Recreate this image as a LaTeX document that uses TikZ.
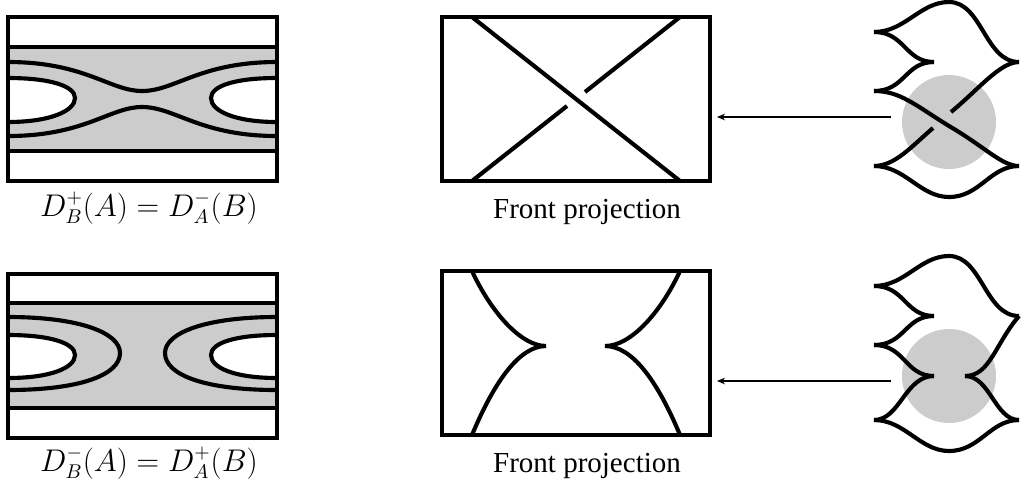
\documentclass[tikz,border=0pt]{standalone}
\usepackage{fontspec}
\setmainfont{Liberation Serif}
\usepackage{amsmath}
\usetikzlibrary{arrows.meta}
\definecolor{greyfill}{gray}{0.8}
\tikzset{
  framebox/.style={draw=black,line width=3.5pt},
  strand/.style={draw=black,line width=3.1pt},
  lens/.style={fill=white,draw=black,line width=3.1pt},
  disc/.style={fill=greyfill,draw=none},
  projarrow/.style={draw=black,line width=1pt,-{Stealth[length=6pt,width=5pt]}},
  caption/.style={inner sep=0pt,scale=1.36,font=\fontsize{16}{18}\selectfont},
}
\newcommand{\frontknot}{%
  \draw[strand] (874,32) .. controls (905,32) and (920,2) .. (949,2)
     .. controls (982,2) and (985,62) .. (1019,62);
  \draw[strand] (874,32) .. controls (905,32) and (905,62) .. (934,62);
  \draw[strand] (874,91) .. controls (905,91) and (905,62) .. (934,62);
  \draw[strand] (874,166) .. controls (905,166) and (920,197) .. (949,197)
     .. controls (980,197) and (990,166) .. (1019,166);
}
\begin{document}
\begin{tikzpicture}[x=0.75pt,y=-0.75pt]
\useasboundingbox (0,0) rectangle (1021,487);
% top left
\fill[greyfill] (8,47) rectangle (277,151);
\path[lens] (8,78) .. controls (50,78) and (75,86) .. (75,98) .. controls (75,111) and (50,122) .. (8,122);
\path[lens] (277,78) .. controls (235,78) and (211,86) .. (211,98) .. controls (211,111) and (235,122) .. (277,122);
\draw[strand] (8,62) .. controls (85,62) and (110,91) .. (142,91) .. controls (175,91) and (200,62) .. (277,62);
\draw[strand] (8,136) .. controls (85,136) and (110,107) .. (142,107) .. controls (175,107) and (200,136) .. (277,136);
\draw[framebox] (8,47) -- (277,47) (8,151) -- (277,151);
\draw[framebox] (8,17) rectangle (277,181);
\node[caption] (capA) at (149,208) {$D_B^+(A)=D_A^-(B)$};
% bottom left
\fill[greyfill] (8,303) rectangle (277,408);
\path[lens] (8,335) .. controls (50,335) and (75,343) .. (75,355) .. controls (75,368) and (50,378) .. (8,378);
\path[lens] (277,335) .. controls (235,335) and (211,343) .. (211,355) .. controls (211,368) and (235,378) .. (277,378);
\draw[strand] (8,317) .. controls (80,317) and (120,333) .. (120,353) .. controls (120,375) and (80,390) .. (8,390);
\draw[strand] (277,317) .. controls (205,317) and (165,333) .. (165,353) .. controls (165,375) and (205,390) .. (277,390);
\draw[framebox] (8,303) -- (277,303) (8,408) -- (277,408);
\draw[framebox] (8,274) rectangle (277,438);
\node[caption] (capB) at (149,463) {$D_B^-(A)=D_A^+(B)$};
% top middle
\draw[strand] (472,17) -- (680,181);
\draw[strand] (680,17) -- (585,92);
\draw[strand] (567,106) -- (472,181);
\draw[framebox] (442,17) rectangle (710,181);
\node[caption] (capC) at (587,211.5) {Front projection};
% bottom middle
\draw[strand] (472,271) .. controls (490,310) and (520,346) .. (546,346) .. controls (520,346) and (495,380) .. (472,435);
\draw[strand] (680,271) .. controls (662,310) and (632,346) .. (605,346) .. controls (632,346) and (657,380) .. (680,435);
\draw[framebox] (442,271) rectangle (710,435);
\node[caption] (capD) at (587,466) {Front projection};
% arrows
\coordinate (startA) at (891,117);
\coordinate (endA) at (717,117);
\coordinate (startB) at (891,381);
\coordinate (endB) at (717,381);
\draw[projarrow] (startA) -- (endA);
\draw[projarrow] (startB) -- (endB);
% top right
\fill[disc] (949,122) circle (47);
\frontknot
\draw[strand] (874,91) .. controls (900,91) and (915,105) .. (949,126) .. controls (985,147) and (1002,166) .. (1019,166);
\draw[strand] (874,166) .. controls (895,166) and (912,146) .. (933,128);
\draw[strand] (951,112) .. controls (978,90) and (1000,62) .. (1019,62);
% bottom right
\fill[disc] (949,376) circle (47);
\begin{scope}[yshift=-190.5pt]
\frontknot
\draw[strand] (874,91) .. controls (905,91) and (905,122) .. (934,122);
\draw[strand] (874,166) .. controls (900,166) and (905,122) .. (934,122);
\draw[strand] (1019,62) .. controls (995,90) and (990,122) .. (965,122);
\draw[strand] (1019,166) .. controls (995,166) and (990,122) .. (965,122);
\end{scope}
\end{tikzpicture}
\end{document}
